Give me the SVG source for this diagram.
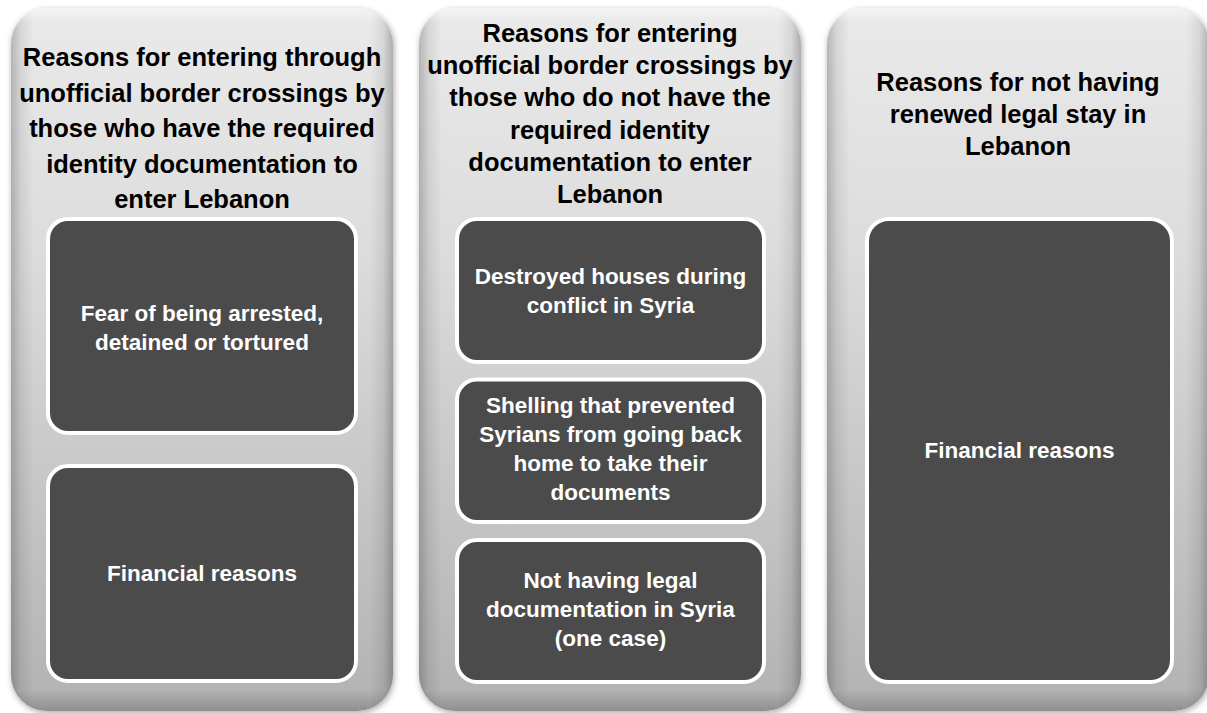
<svg xmlns="http://www.w3.org/2000/svg" width="1207" height="713" viewBox="0 0 1207 713">
<defs>
<linearGradient id="pv" x1="0" y1="0" x2="0" y2="1">
<stop offset="0" stop-color="#eaeaea"/>
<stop offset="0.35" stop-color="#dcdcdc"/>
<stop offset="1" stop-color="#b2b2b2"/>
</linearGradient>
<linearGradient id="ph" x1="0" y1="0" x2="1" y2="0">
<stop offset="0" stop-color="#000" stop-opacity="0.22"/>
<stop offset="0.025" stop-color="#000" stop-opacity="0.08"/>
<stop offset="0.06" stop-color="#000" stop-opacity="0"/>
<stop offset="0.94" stop-color="#000" stop-opacity="0"/>
<stop offset="0.975" stop-color="#000" stop-opacity="0.08"/>
<stop offset="1" stop-color="#000" stop-opacity="0.25"/>
</linearGradient>
<linearGradient id="pb" x1="0" y1="0" x2="0" y2="1">
<stop offset="0" stop-color="#fff" stop-opacity="0.5"/>
<stop offset="0.02" stop-color="#fff" stop-opacity="0"/>
<stop offset="0.97" stop-color="#000" stop-opacity="0"/>
<stop offset="1" stop-color="#000" stop-opacity="0.2"/>
</linearGradient>
<filter id="sh" x="-10%" y="-10%" width="120%" height="120%">
<feDropShadow dx="1" dy="2" stdDeviation="3" flood-color="#000" flood-opacity="0.35"/>
</filter>
</defs>
<style>
.panel{fill:url(#pv);}
.edge{fill:url(#ph);}
.bev{fill:url(#pb);}
.box{fill:#4b4b4b;stroke:#ffffff;stroke-width:4;}
.title{font-family:"Liberation Sans",Arial,sans-serif;font-weight:bold;font-size:25.5px;fill:#000;text-anchor:middle;}
.lbl{font-family:"Liberation Sans",Arial,sans-serif;font-weight:bold;font-size:22.5px;fill:#fff;text-anchor:middle;}
</style>
<rect width="1207" height="713" fill="#ffffff"/>

<g id="panel-left">
<g filter="url(#sh)"><rect class="panel" x="11" y="8" width="382" height="703" rx="36"/></g>
<rect class="edge" x="11" y="8" width="382" height="703" rx="36"/>
<rect class="bev" x="11" y="8" width="382" height="703" rx="36"/>
<text class="title"><tspan x="202" y="66">Reasons for entering through</tspan><tspan x="202" y="101.5">unofficial border crossings by</tspan><tspan x="202" y="137">those who have the required</tspan><tspan x="202" y="172.5">identity documentation to</tspan><tspan x="202" y="208">enter Lebanon</tspan></text>
</g>
<g id="box-left-1">
<rect class="box" x="48" y="219" width="308" height="214" rx="20"/>
<text class="lbl"><tspan x="202" y="321">Fear of being arrested,</tspan><tspan x="202" y="350">detained or tortured</tspan></text>
</g>
<g id="box-left-2">
<rect class="box" x="48" y="466" width="308" height="215" rx="20"/>
<text class="lbl" x="202" y="581">Financial reasons</text>
</g>

<g id="panel-middle">
<g filter="url(#sh)"><rect class="panel" x="419" y="8" width="382" height="703" rx="36"/></g>
<rect class="edge" x="419" y="8" width="382" height="703" rx="36"/>
<rect class="bev" x="419" y="8" width="382" height="703" rx="36"/>
<text class="title"><tspan x="610" y="42">Reasons for entering</tspan><tspan x="610" y="74.2">unofficial border crossings by</tspan><tspan x="610" y="106.4">those who do not have the</tspan><tspan x="610" y="138.6">required identity</tspan><tspan x="610" y="170.8">documentation to enter</tspan><tspan x="610" y="203">Lebanon</tspan></text>
</g>
<g id="box-middle-1">
<rect class="box" x="457" y="219" width="307" height="143" rx="20"/>
<text class="lbl"><tspan x="610.5" y="284">Destroyed houses during</tspan><tspan x="610.5" y="313">conflict in Syria</tspan></text>
</g>
<g id="box-middle-2">
<rect class="box" x="457" y="379.5" width="307" height="142.5" rx="20"/>
<text class="lbl"><tspan x="610.5" y="413">Shelling that prevented</tspan><tspan x="610.5" y="442">Syrians from going back</tspan><tspan x="610.5" y="471">home to take their</tspan><tspan x="610.5" y="500">documents</tspan></text>
</g>
<g id="box-middle-3">
<rect class="box" x="457" y="540" width="307" height="142" rx="20"/>
<text class="lbl"><tspan x="610.5" y="588">Not having legal</tspan><tspan x="610.5" y="617">documentation in Syria</tspan><tspan x="610.5" y="646">(one case)</tspan></text>
</g>

<g id="panel-right">
<g filter="url(#sh)"><rect class="panel" x="827" y="8" width="382" height="703" rx="36"/></g>
<rect class="edge" x="827" y="8" width="382" height="703" rx="36"/>
<rect class="bev" x="827" y="8" width="382" height="703" rx="36"/>
<text class="title"><tspan x="1018" y="91">Reasons for not having</tspan><tspan x="1018" y="123">renewed legal stay in</tspan><tspan x="1018" y="155">Lebanon</tspan></text>
</g>
<g id="box-right-1">
<rect class="box" x="867" y="219" width="305" height="463" rx="22"/>
<text class="lbl" x="1019.5" y="458">Financial reasons</text>
</g>
</svg>
